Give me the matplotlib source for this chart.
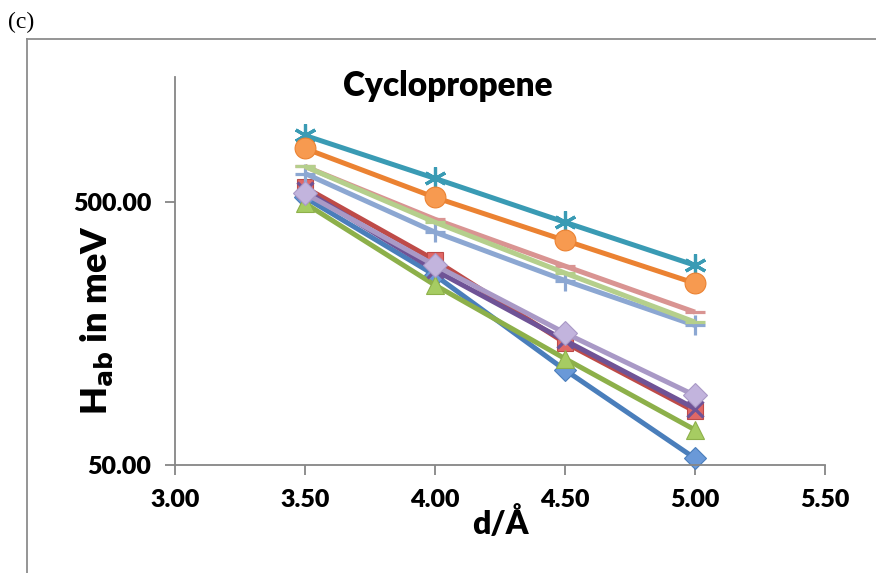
import numpy as np
import matplotlib
matplotlib.use("Agg")
import matplotlib.pyplot as plt
from matplotlib.lines import Line2D

# расстояние d, Å
d = [3.5, 4.0, 4.5, 5.0]

# H_ab, meV (оценено по рисунку)
s_blue = [522, 264, 115, 53]
s_red = [570, 301, 146, 80]
s_green = [496, 242, 127, 68]
s_purple = [555, 276, 149, 82]
s_teal = [899, 617, 420, 288]
s_orange = [802, 522, 358, 246]
s_ltblue = [644, 385, 252, 170]
s_ltred = [685, 431, 286, 191]
s_ltgreen = [685, 420, 269, 175]
s_ltpurple = [541, 288, 159, 92]

x_ticks = [3.0, 3.5, 4.0, 4.5, 5.0, 5.5]
y_ticks = [50, 500]

series = [
    (s_blue, '#4A7EBB', 'D', 11),
    (s_red, '#BE4B48', 's', 12),
    (s_green, '#8DB04A', '^', 13),
    (s_purple, '#6F5396', 'x', 11),
    (s_teal, '#3A9BB4', (6, 2, 0), 16),
    (s_orange, '#EB8232', 'o', 15),
    (s_ltblue, '#8CA7D2', '+', 15),
    (s_ltred, '#D99492', '_', 15),
    (s_ltgreen, '#B5CF8C', '_', 15),
    (s_ltpurple, '#A999C6', 'D', 12),
]

face = {'#4A7EBB': '#6A99D8', '#BE4B48': '#E06866', '#8DB04A': '#A6CC62',
        '#EB8232': '#F79A50', '#A999C6': '#C2B4DD'}

fig = plt.figure(figsize=(8.76, 5.73), dpi=100)
ax = fig.add_axes([0.1998, 0.1885, 0.742, 0.677])

for vals, col, mk, ms in series:
    fc = face.get(col, col)
    ax.plot(d, vals, color=col, linewidth=3.6, marker=mk, markersize=ms,
            markerfacecolor=fc, markeredgecolor=col,
            markeredgewidth=2.3 if mk in ('x', '+', '_', (6, 2, 0)) else 0.8,
            solid_capstyle='butt', clip_on=False)

ax.set_yscale('log')
ax.set_xlim(3.0, 5.5)
ax.set_ylim(50, 1500)
ax.set_xticks(x_ticks)
ax.set_xticklabels([f'{v:.2f}' for v in x_ticks])
ax.set_yticks(y_ticks)
ax.set_yticklabels([f'{v:.2f}' for v in y_ticks])
ax.yaxis.set_minor_locator(matplotlib.ticker.NullLocator())

for side in ('top', 'right'):
    ax.spines[side].set_visible(False)
for side in ('left', 'bottom'):
    ax.spines[side].set_color('#868686')
    ax.spines[side].set_linewidth(1.3)

ax.tick_params(axis='both', direction='out', length=7, width=1.3,
               color='#868686', labelsize=18, pad=10)
for lab in ax.get_xticklabels() + ax.get_yticklabels():
    lab.set_fontfamily('Lato')
    lab.set_fontweight('heavy')

ax.set_xlabel('d/Å', fontsize=23, fontweight='heavy', family='Lato', labelpad=-3)
ax.set_ylabel(r'H$_{\mathbf{ab}}$ in meV', fontsize=26, fontweight='heavy',
              family='Lato', va='center')
ax.yaxis.set_label_coords(-0.12, 0.374)
ax.set_title('Cyclopropene', fontsize=24, fontweight='heavy', family='Lato',
             x=0.42, y=0.93)

# рамка вокруг рисунка
fig.add_artist(Line2D([27 / 876, 1.0], [1 - 39 / 573, 1 - 39 / 573],
                      color='#8C8C8C', linewidth=1.3))
fig.add_artist(Line2D([27 / 876, 27 / 876], [0.0, 1 - 39 / 573],
                      color='#8C8C8C', linewidth=1.3))
fig.text(8 / 876, 1 - 22 / 573, '(c)', fontsize=17, family='Liberation Serif',
         va='center', ha='left')

fig.savefig('out.png', dpi=100)
